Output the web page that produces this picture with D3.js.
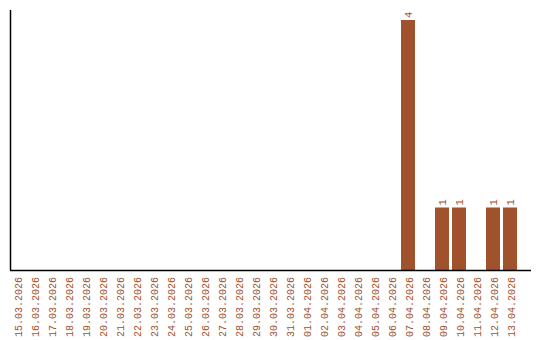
<!DOCTYPE html>
<html>
<head>
<meta charset="utf-8">
<script src="https://cdn.jsdelivr.net/npm/d3@7"></script>
<style>
  html, body { margin: 0; padding: 0; background: #fff; }
  svg { display: block; }
  text { font-family: "Liberation Mono", "Courier New", monospace; font-size: 10px; }
</style>
</head>
<body>
<div id="chart"></div>
<script>
const categories = [
  "15.03.2026","16.03.2026","17.03.2026","18.03.2026","19.03.2026","20.03.2026",
  "21.03.2026","22.03.2026","23.03.2026","24.03.2026","25.03.2026","26.03.2026",
  "27.03.2026","28.03.2026","29.03.2026","30.03.2026","31.03.2026","01.04.2026",
  "02.04.2026","03.04.2026","04.04.2026","05.04.2026","06.04.2026","07.04.2026",
  "08.04.2026","09.04.2026","10.04.2026","11.04.2026","12.04.2026","13.04.2026"
];
const values = [
  0,0,0,0,0,0,
  0,0,0,0,0,0,
  0,0,0,0,0,0,
  0,0,0,0,0,4,
  0,1,1,0,1,1
];
const yDomain = [0, 4];

(function () {
const W = 540, H = 340;
const color = "#A0522D";
const pLeft = 10, pRight = 531, pTop = 10, pBottom = 270;
const font = '"Liberation Mono", "Courier New", monospace';

const svg = d3.select("#chart").append("svg").attr("width", W).attr("height", H);

const x = d3.scaleBand().domain(categories).range([10, 517])
  .paddingInner(3/17).paddingOuter(0).align(0);
const y = d3.scaleLinear().domain(yDomain).range([pBottom, 20]);

const data = categories.map((c, i) => ({c, v: values[i]}));

svg.append("g").selectAll("rect").data(data.filter(d => d.v > 0)).join("rect")
  .attr("x", d => x(d.c))
  .attr("y", d => y(d.v))
  .attr("width", x.bandwidth())
  .attr("height", d => y(0) - y(d.v))
  .attr("fill", color);

svg.append("g").selectAll("text").data(data.filter(d => d.v > 0)).join("text")
  .attr("transform", d => `translate(${x(d.c) + x.bandwidth()/2},${y(d.v) - 2}) rotate(-90)`)
  .attr("dy", "0.4em")
  .attr("text-anchor", "start")
  .attr("fill", color)
  .style("font-family", font)
  .style("font-size", "10.5px")
  .text(d => d.v);

const xAxis = d3.axisBottom(x).tickSize(0).tickPadding(0);
const gx = svg.append("g").attr("transform", `translate(0,${pBottom})`).call(xAxis);
gx.select(".domain").remove();
gx.selectAll(".tick text")
  .attr("y", 0).attr("dy", "0.5em")
  .attr("transform", "translate(0,7) rotate(-90)")
  .attr("text-anchor", "end")
  .attr("fill", color)
  .style("font-family", font)
  .style("font-size", "10px");

svg.append("line").attr("x1", pLeft).attr("x2", pRight).attr("y1", pBottom + 0.5).attr("y2", pBottom + 0.5)
  .attr("stroke", "#000").attr("stroke-width", 1.5);
svg.append("line").attr("x1", pLeft + 0.5).attr("x2", pLeft + 0.5).attr("y1", pTop).attr("y2", pBottom)
  .attr("stroke", "#000").attr("stroke-width", 1.5);
})();
</script>
</body>
</html>
